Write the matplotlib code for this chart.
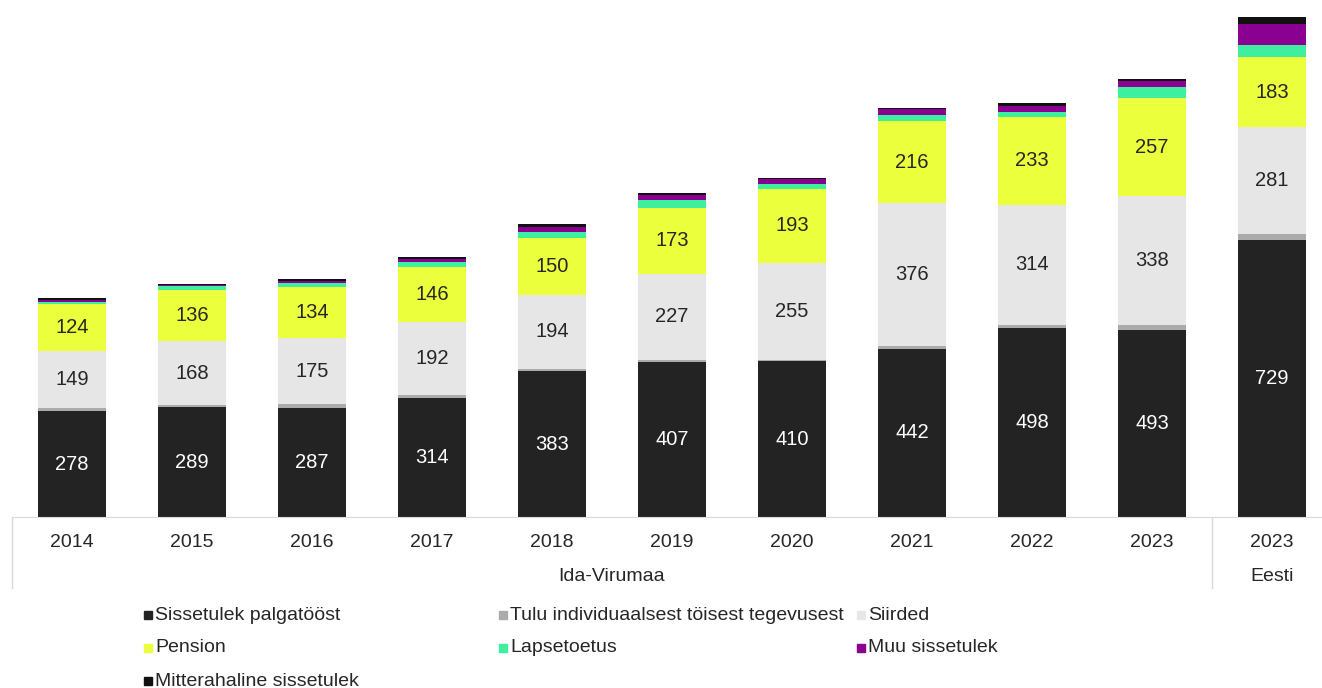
import matplotlib.pyplot as plt
from matplotlib.patches import Rectangle
import numpy as np

plt.rcParams["font.family"] = ["Liberation Sans", "DejaVu Sans"]

years = ["2014", "2015", "2016", "2017", "2018", "2019", "2020", "2021", "2022", "2023", "2023"]
groups = ["Ida-Virumaa", "Eesti"]
group_sizes = [10, 1]

palk = [278, 289, 287, 314, 383, 407, 410, 442, 498, 493, 729]
individuaal = [10, 5, 9, 6, 7, 6, 4, 7, 8, 13, 16]
siirded = [149, 168, 175, 192, 194, 227, 255, 376, 314, 338, 281]
pension = [124, 136, 134, 146, 150, 173, 193, 216, 233, 257, 183]
lapse = [5, 9, 10, 14, 15, 21, 15, 16, 12, 29, 32]
muu = [5, 3, 6, 8, 13, 12, 11, 15, 17, 16, 55]
mitterahaline = [4, 4, 4, 4, 9, 5, 5, 5, 6, 5, 19]

series = [
    ("Sissetulek palgatööst", palk, "#232323", True, "white"),
    ("Tulu individuaalsest töisest tegevusest", individuaal, "#ABABAB", False, None),
    ("Siirded", siirded, "#E6E6E6", True, "#262626"),
    ("Pension", pension, "#EBFF3C", True, "#262626"),
    ("Lapsetoetus", lapse, "#3DEF9F", False, None),
    ("Muu sissetulek", muu, "#8A0090", False, None),
    ("Mitterahaline sissetulek", mitterahaline, "#111111", False, None),
]

W, H = 1322, 688
fig = plt.figure(figsize=(W / 100, H / 100), dpi=100)
ax = fig.add_axes([12 / W, 171 / H, 1320 / W, 517 / H])

x = np.arange(len(years))
bottom = np.zeros(len(years))
for name, vals, color, labelled, tcolor in series:
    vals = np.array(vals, dtype=float)
    ax.bar(x, vals, bottom=bottom, width=0.57, color=color, linewidth=0)
    if labelled:
        for xi, b, v in zip(x, bottom, vals):
            ax.text(xi, b + v / 2, f"{v:.0f}", ha="center", va="center",
                    fontsize=14.5, color=tcolor)
    bottom += vals

ax.set_xlim(-0.5, len(years) - 0.5)
ax.set_ylim(0, 1360)
for s in ["top", "right", "left"]:
    ax.spines[s].set_visible(False)
ax.spines["bottom"].set_color("#D9D9D9")
ax.set_yticks([])
ax.set_xticks(x)
ax.set_xticklabels(years, fontsize=14, color="#262626")
ax.tick_params(axis="x", length=0, pad=12)

# group labels and separators below the axis
trans = ax.get_xaxis_transform()
start = 0
ax.plot([-0.5, -0.5], [0, -0.137], transform=trans, color="#D9D9D9", lw=1, clip_on=False)
for g, n in zip(groups, group_sizes):
    centre = start + (n - 1) / 2
    ax.text(centre, -0.115, g, transform=trans, ha="center", va="center",
            fontsize=14, color="#262626")
    end = start + n - 0.5
    if end < len(years) - 0.5:
        ax.plot([end, end], [0, -0.137], transform=trans, color="#D9D9D9", lw=1, clip_on=False)
    start += n

# legend
cols = [145, 500, 858]
rows = [615, 648, 681]
for i, (name, vals, color, labelled, tcolor) in enumerate(series):
    cx = cols[i % 3]
    cy = rows[i // 3]
    fig.patches.append(Rectangle(((cx - 1) / W, 1 - (cy + 4) / H), 8 / W, 8 / H,
                                 transform=fig.transFigure, color=color))
    fig.text((cx + 10) / W, 1 - cy / H, name, fontsize=14, color="#262626",
             ha="left", va="center")

fig.savefig("out.png", dpi=100)
